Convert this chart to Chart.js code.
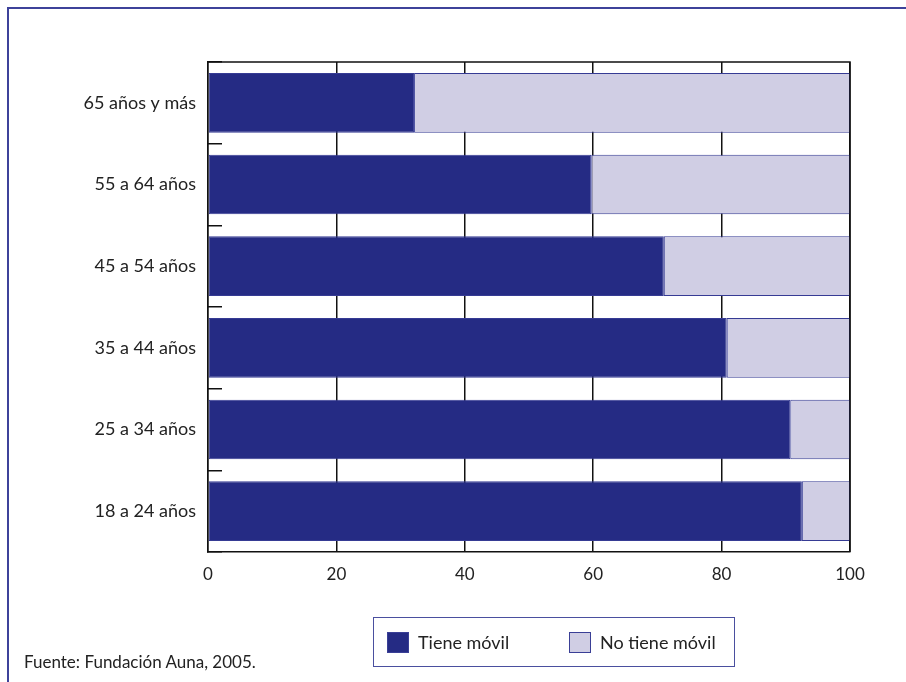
<!DOCTYPE html>
<html>
<head>
<meta charset="utf-8">
<script src="https://cdn.jsdelivr.net/npm/chart.js@4/dist/chart.umd.min.js"></script>
<style>
  html, body { margin: 0; padding: 0; background: #fff; }
  body { width: 906px; height: 682px; position: relative; overflow: hidden; font-family: Lato, sans-serif; color: #222; }
  #frame { position: absolute; left: 7px; top: 7px; right: -10px; bottom: -10px; border-left: 2px solid #3d429a; border-top: 2px solid #3d429a; }
  #chart { position: absolute; left: 0; top: 0; }
  #legend { position: absolute; left: 373px; top: 617px; width: 362px; height: 50px; border: 1.5px solid #4a4f9f; box-sizing: border-box; display: flex; align-items: center; font-size: 18px; }
  .item { display: flex; align-items: center; position: absolute; }
  .swatch { width: 22px; height: 21px; box-sizing: border-box; border: 1px solid #3a3f96; margin-right: 9px; }
  #source { position: absolute; left: 24px; top: 651px; font-size: 17px; }
</style>
</head>
<body>
<div id="frame"></div>
<canvas id="chart" width="906" height="682"></canvas>
<div id="legend"></div>
<div id="source">Fuente: Fundación Auna, 2005.</div>
<script>
const ageGroups   = ['65 años y más', '55 a 64 años', '45 a 54 años', '35 a 44 años', '25 a 34 años', '18 a 24 años'];
const tieneMovil   = [32.1, 59.7, 71.0, 80.8, 90.7, 92.5];
const noTieneMovil = [67.9, 40.3, 29.0, 19.2, 9.3, 7.5];
const xTicks = [0, 20, 40, 60, 80, 100];

const DARK  = '#252b84';
const LIGHT = '#d0cee4';
const EDGE  = '#363b94';

// black frame round the plot area (top edge is not drawn by any axis)
const plotFrame = {
  id: 'plotFrame',
  afterDatasetsDraw(chart) {
    const { ctx, chartArea: a } = chart;
    ctx.save();
    ctx.strokeStyle = '#111';
    ctx.lineWidth = 1.5;
    ctx.beginPath();
    ctx.moveTo(a.left, a.top);
    ctx.lineTo(a.right, a.top);
    ctx.lineTo(a.right, a.bottom);
    ctx.stroke();
    ctx.restore();
  },
};

new Chart(document.getElementById('chart'), {
  type: 'bar',
  data: {
    labels: ageGroups,
    datasets: [
      { label: 'Tiene móvil',    data: tieneMovil,   backgroundColor: DARK,  borderColor: EDGE, borderWidth: 1, borderSkipped: false },
      { label: 'No tiene móvil', data: noTieneMovil, backgroundColor: LIGHT, borderColor: EDGE, borderWidth: 1, borderSkipped: false },
    ],
  },
  options: {
    indexAxis: 'y',
    responsive: false,
    animation: false,
    layout: { padding: { top: 62, right: 56, bottom: 90, left: 0 } },
    datasets: { bar: { categoryPercentage: 1, barPercentage: 0.73 } },
    plugins: { legend: { display: false }, tooltip: { enabled: false } },
    scales: {
      x: {
        stacked: true,
        min: 0,
        max: 100,
        afterBuildTicks: (s) => { s.ticks = xTicks.map(v => ({ value: v })); },
        afterFit: (s) => { s.height = 40; },
        ticks: { color: '#222', font: { family: 'Lato, sans-serif', size: 17 }, padding: 12 },
        grid: { color: '#111', lineWidth: 1.5, drawTicks: false },
        border: { color: '#111', width: 1.5 },
      },
      y: {
        stacked: true,
        afterFit: (s) => { s.width = 208; },
        ticks: { color: '#222', font: { family: 'Lato, sans-serif', size: 18 }, padding: 26 },
        grid: { offset: true, drawOnChartArea: false, drawTicks: true, tickLength: -14, color: '#111', lineWidth: 1.5 },
        border: { color: '#111', width: 1.5 },
      },
    },
  },
  plugins: [plotFrame],
});

// legend built from the dataset names and colours
const legend = document.getElementById('legend');
[['Tiene móvil', DARK, 13], ['No tiene móvil', LIGHT, 195]].forEach(([name, color, left]) => {
  const item = document.createElement('div');
  item.className = 'item';
  item.style.left = left + 'px';
  item.innerHTML = `<span class="swatch" style="background:${color}"></span><span>${name}</span>`;
  legend.appendChild(item);
});
</script>
</body>
</html>
